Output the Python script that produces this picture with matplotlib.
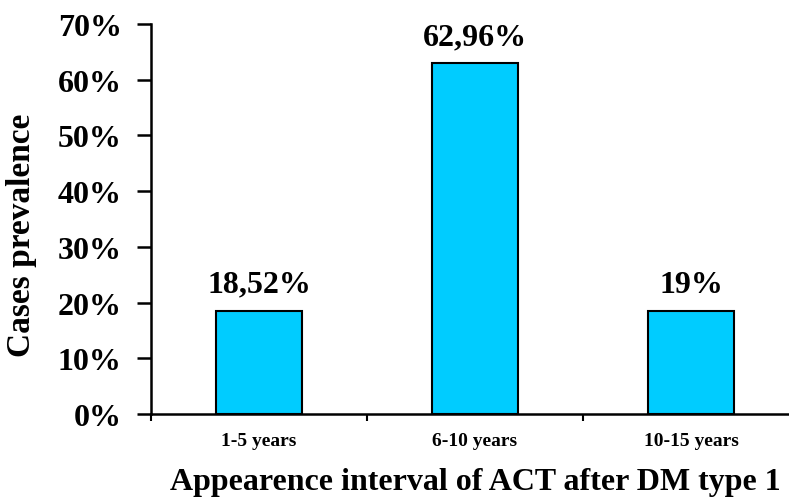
import numpy as np
import matplotlib.pyplot as plt
from matplotlib.ticker import FixedLocator, PercentFormatter

categories = ['1-5 years', '6-10 years', '10-15 years']
prevalence = [18.52, 62.96, 18.52]
bar_labels = ['18,52%', '62,96%', '19%']
yticks = [0, 10, 20, 30, 40, 50, 60, 70]

plt.rcParams['font.family'] = ['Liberation Serif', 'DejaVu Serif']
plt.rcParams['font.weight'] = 'bold'

fig = plt.figure(figsize=(7.89, 5.02), dpi=100)
ax = fig.add_axes([151 / 789, 87 / 502, 648 / 789, 390 / 502])

x = np.arange(len(categories))
bars = ax.bar(x, prevalence, width=0.4, color='#00CCFF', edgecolor='black', linewidth=1.5)

for rect, lab in zip(bars, bar_labels):
    ax.text(rect.get_x() + rect.get_width() / 2, rect.get_height() + 2.2, lab,
            ha='center', va='bottom', fontsize=23, fontweight='bold')

ax.set_xlim(-0.5, 2.5)
ax.set_ylim(0, 70)

ax.spines['top'].set_visible(False)
ax.spines['right'].set_visible(False)
ax.spines['left'].set_linewidth(1.8)
ax.spines['bottom'].set_linewidth(1.8)

ax.set_yticks(yticks)
ax.yaxis.set_major_formatter(PercentFormatter(decimals=0))
ax.tick_params(axis='y', direction='out', length=10, width=1.8, pad=11, labelsize=23)

# category boundaries as major ticks, names at centres
ax.xaxis.set_major_locator(FixedLocator([-0.5, 0.5, 1.5, 2.5]))
ax.xaxis.set_major_formatter(plt.NullFormatter())
ax.set_xticks(x, minor=True)
ax.set_xticklabels(categories, minor=True)
ax.tick_params(axis='x', which='major', direction='out', length=5, width=1.5)
ax.tick_params(axis='x', which='minor', length=0, pad=13, labelsize=14)

ax.set_ylabel('Cases prevalence', fontsize=24, fontweight='bold')
ax.yaxis.set_label_coords(-(151 - 22) / 648, (415 - 235) / 390)
ax.yaxis.label.set_va('center')

ax.set_xlabel('Appearence interval of ACT after DM type 1', fontsize=23,
              fontweight='bold')
ax.xaxis.set_label_coords((475 - 151) / 648, -(483 - 415) / 390)
ax.xaxis.label.set_va('center')

fig.savefig('out.png', dpi=100)
